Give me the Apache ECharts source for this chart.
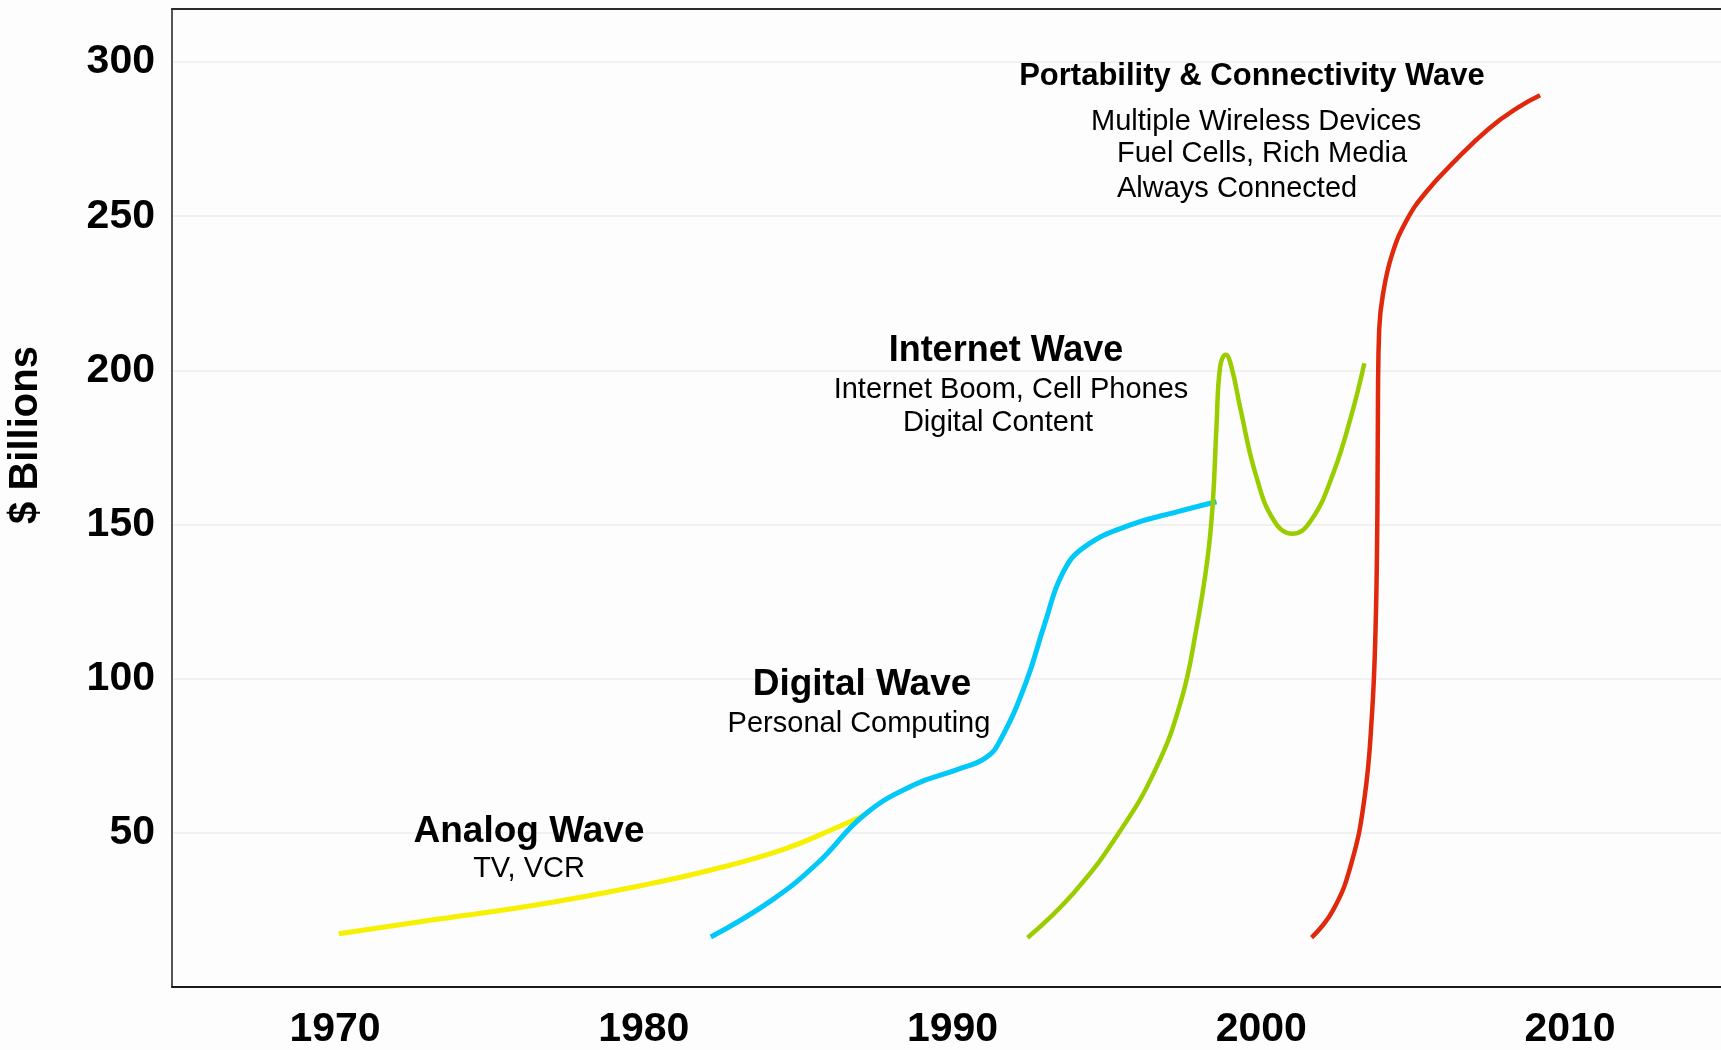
<!DOCTYPE html>
<html>
<head>
<meta charset="utf-8">
<script src="https://cdn.jsdelivr.net/npm/echarts@6/dist/echarts.min.js"></script>
<style>
html,body{margin:0;padding:0;background:#fdfdfd;}
#chart{width:1721px;height:1050px;}
</style>
</head>
<body>
<div id="chart"></div>
<script>
// ---- data ----
const yearTicks = [1970, 1980, 1990, 2000, 2010];
const valueTicks = [50, 100, 150, 200, 250, 300];

const analogWave = [
  [1970.12, 17.3], [1972.98, 21.5], [1976.45, 26.5], [1979.92, 32.9],
  [1982.24, 38.1], [1984.55, 44.7], [1986.29, 51.9], [1987.15, 55.8]
];
const digitalWave = [
  [1982.17, 16.2], [1984.14, 28.1], [1985.64, 40.3], [1987.14, 55.8],
  [1988.76, 65.6], [1990.15, 70.5], [1991.07, 74.3], [1991.54, 79.9],
  [1992.38, 98.8], [1992.98, 117.6], [1993.58, 134.5], [1994.30, 142.9],
  [1995.74, 149.8], [1997.30, 154.2], [1998.55, 157.4]
];
const internetWave = [
  [1992.43, 16.0], [1993.93, 30.6], [1995.37, 49.7], [1996.57, 70.5],
  [1997.41, 93.1], [1997.89, 115.7], [1998.25, 138.2], [1998.43, 157.0],
  [1998.55, 181.8], [1998.67, 201.3], [1998.85, 205.1], [1999.03, 201.3],
  [1999.33, 187.3], [1999.81, 166.6], [2000.41, 151.3], [2001.01, 147.0],
  [2001.61, 151.3], [2002.33, 166.6], [2002.92, 185.5], [2003.34, 202.3]
];
const portabilityWave = [
  [2001.63, 16.0], [2002.33, 25.0], [2002.92, 40.2], [2003.34, 61.0],
  [2003.58, 87.5], [2003.70, 115.7], [2003.76, 153.2], [2003.78, 191.1],
  [2003.82, 213.5], [2003.94, 224.6], [2004.24, 237.7], [2004.72, 248.9],
  [2005.32, 257.6], [2006.28, 268.0], [2007.36, 278.3], [2008.31, 285.2],
  [2009.03, 289.2]
];

const yAxisTitle = '$ Billions';
const annotations = [
  { text: 'Portability & Connectivity Wave', x: 1252, y: 76, size: 31, bold: true, align: 'center' },
  { text: 'Multiple Wireless Devices', x: 1091, y: 122, size: 29, bold: false, align: 'left' },
  { text: 'Fuel Cells, Rich Media', x: 1117, y: 154, size: 29, bold: false, align: 'left' },
  { text: 'Always Connected', x: 1117, y: 189, size: 29, bold: false, align: 'left' },
  { text: 'Internet Wave', x: 1006, y: 351, size: 36, bold: true, align: 'center' },
  { text: 'Internet Boom, Cell Phones', x: 1011, y: 390, size: 29, bold: false, align: 'center' },
  { text: 'Digital Content', x: 998, y: 423, size: 29, bold: false, align: 'center' },
  { text: 'Digital Wave', x: 862, y: 685, size: 37, bold: true, align: 'center' },
  { text: 'Personal Computing', x: 859, y: 724, size: 29, bold: false, align: 'center' },
  { text: 'Analog Wave', x: 529, y: 832, size: 37, bold: true, align: 'center' },
  { text: 'TV, VCR', x: 529, y: 869, size: 29, bold: false, align: 'center' }
];

// ---- chart ----
const FONT = "'Liberation Sans', Arial, Helvetica, sans-serif";
const chart = echarts.init(document.getElementById('chart'), null, { renderer: 'canvas' });

function waveSeries(name, data, color, width) {
  return {
    name: name, type: 'line', data: data,
    showSymbol: false, smooth: 0.45,
    lineStyle: { color: color, width: width, cap: 'butt', join: 'round' },
    itemStyle: { color: color },
    emphasis: { disabled: true },
    silent: true
  };
}

const graphics = annotations.map(a => ({
  type: 'text', x: a.x, y: a.y, silent: true, z: 100,
  style: {
    text: a.text, fill: '#000',
    font: (a.bold ? 'bold ' : '') + a.size + 'px ' + FONT,
    textAlign: a.align, textVerticalAlign: 'middle'
  }
}));
graphics.push({
  type: 'text', x: 26, y: 435, rotation: Math.PI / 2, silent: true, z: 100,
  style: {
    text: yAxisTitle, fill: '#000', font: 'bold 40px ' + FONT,
    textAlign: 'center', textVerticalAlign: 'middle'
  }
});

chart.setOption({
  animation: false,
  backgroundColor: '#fdfdfd',
  grid: { left: 172, right: 0, top: 9, bottom: 63, containLabel: false, outerBoundsMode: 'none' },
  xAxis: [{
    type: 'value', min: 1964.72, max: 2014.89,
    axisLine: { show: true, lineStyle: { color: '#1a1a1a', width: 2 } },
    axisTick: { show: false },
    splitLine: { show: false },
    axisLabel: {
      customValues: yearTicks,
      formatter: v => String(Math.round(v)),
      color: '#000', fontSize: 41, fontWeight: 'bold', fontFamily: FONT, margin: 22
    }
  }, {
    type: 'value', position: 'top', min: 1964.72, max: 2014.89,
    axisLine: { show: true, onZero: false, lineStyle: { color: '#2a2a2a', width: 2 } },
    axisTick: { show: false }, axisLabel: { show: false }, splitLine: { show: false }
  }],
  yAxis: {
    type: 'value', min: 0, max: 317.2, interval: 50,
    axisLine: { show: true, lineStyle: { color: '#555', width: 2 } },
    axisTick: { show: false },
    splitLine: { show: true, lineStyle: { color: '#ececec', width: 1.5 } },
    axisLabel: {
      customValues: valueTicks,
      formatter: v => String(Math.round(v)),
      color: '#000', fontSize: 41, fontWeight: 'bold', fontFamily: FONT, margin: 17
    }
  },
  series: [
    waveSeries('Analog Wave', analogWave, '#f7f000', 5),
    waveSeries('Digital Wave', digitalWave, '#00c8f8', 5),
    waveSeries('Internet Wave', internetWave, '#9acd00', 4.5),
    waveSeries('Portability & Connectivity Wave', portabilityWave, '#e0280c', 4.5)
  ],
  graphic: graphics
});
</script>
</body>
</html>
